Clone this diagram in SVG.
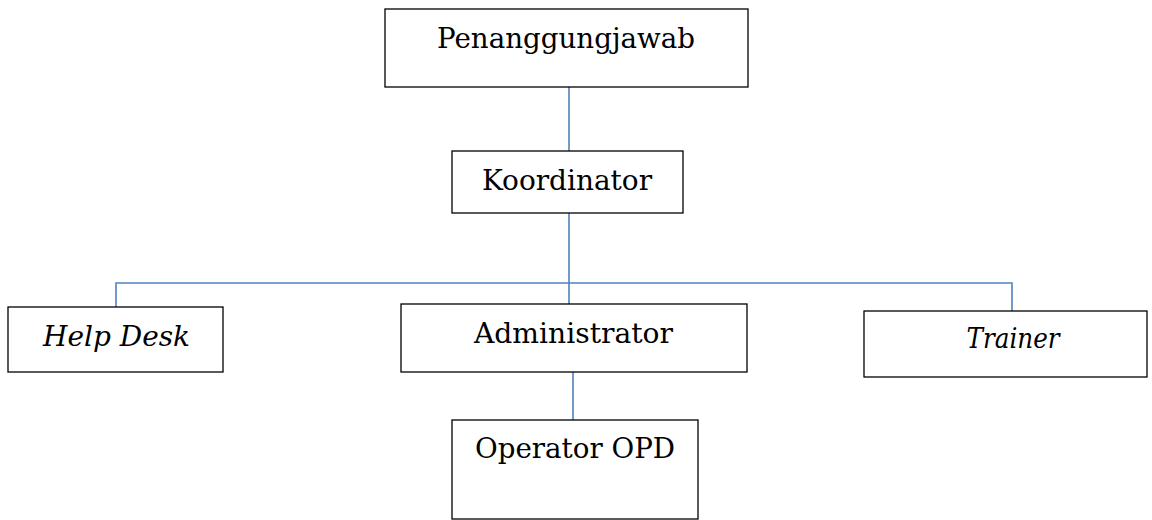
<svg xmlns="http://www.w3.org/2000/svg" width="1152" height="520" viewBox="0 0 1152 520">
<style>
.box{fill:#fff;stroke:#000;stroke-width:1.3}
.t{font-family:"DejaVu Serif","Liberation Serif",serif;font-size:28px;fill:#000;text-anchor:middle}
.i{font-style:italic}
.c{fill:none;stroke:#4f81bd;stroke-width:1.6}
</style>
<rect width="1152" height="520" fill="#fff"/>
<g id="connectors">
<line class="c" x1="569" y1="87" x2="569" y2="151"/>
<line class="c" x1="569" y1="213" x2="569" y2="304"/>
<polyline class="c" points="116,307 116,283 1012,283 1012,311"/>
<line class="c" x1="573" y1="372" x2="573" y2="420"/>
</g>
<g id="penanggungjawab">
<rect class="box" x="385" y="9" width="363" height="78"/>
<text class="t" x="566" y="48" textLength="258" lengthAdjust="spacingAndGlyphs">Penanggungjawab</text>
</g>
<g id="koordinator">
<rect class="box" x="452" y="151" width="231" height="62"/>
<text class="t" x="567" y="190" textLength="170" lengthAdjust="spacingAndGlyphs">Koordinator</text>
</g>
<g id="helpdesk">
<rect class="box" x="8" y="307" width="215" height="65"/>
<text class="t i" x="116.5" y="346" textLength="147" lengthAdjust="spacingAndGlyphs">Help Desk</text>
</g>
<g id="administrator">
<rect class="box" x="401" y="304" width="346" height="68"/>
<text class="t" x="573.5" y="343" textLength="199" lengthAdjust="spacingAndGlyphs">Administrator</text>
</g>
<g id="trainer">
<rect class="box" x="864" y="311" width="283" height="66"/>
<text class="t i" x="1013" y="348" textLength="93" lengthAdjust="spacingAndGlyphs">Trainer</text>
</g>
<g id="operator">
<rect class="box" x="452" y="420" width="246" height="99"/>
<text class="t" x="575" y="458" textLength="200" lengthAdjust="spacingAndGlyphs">Operator OPD</text>
</g>
</svg>
